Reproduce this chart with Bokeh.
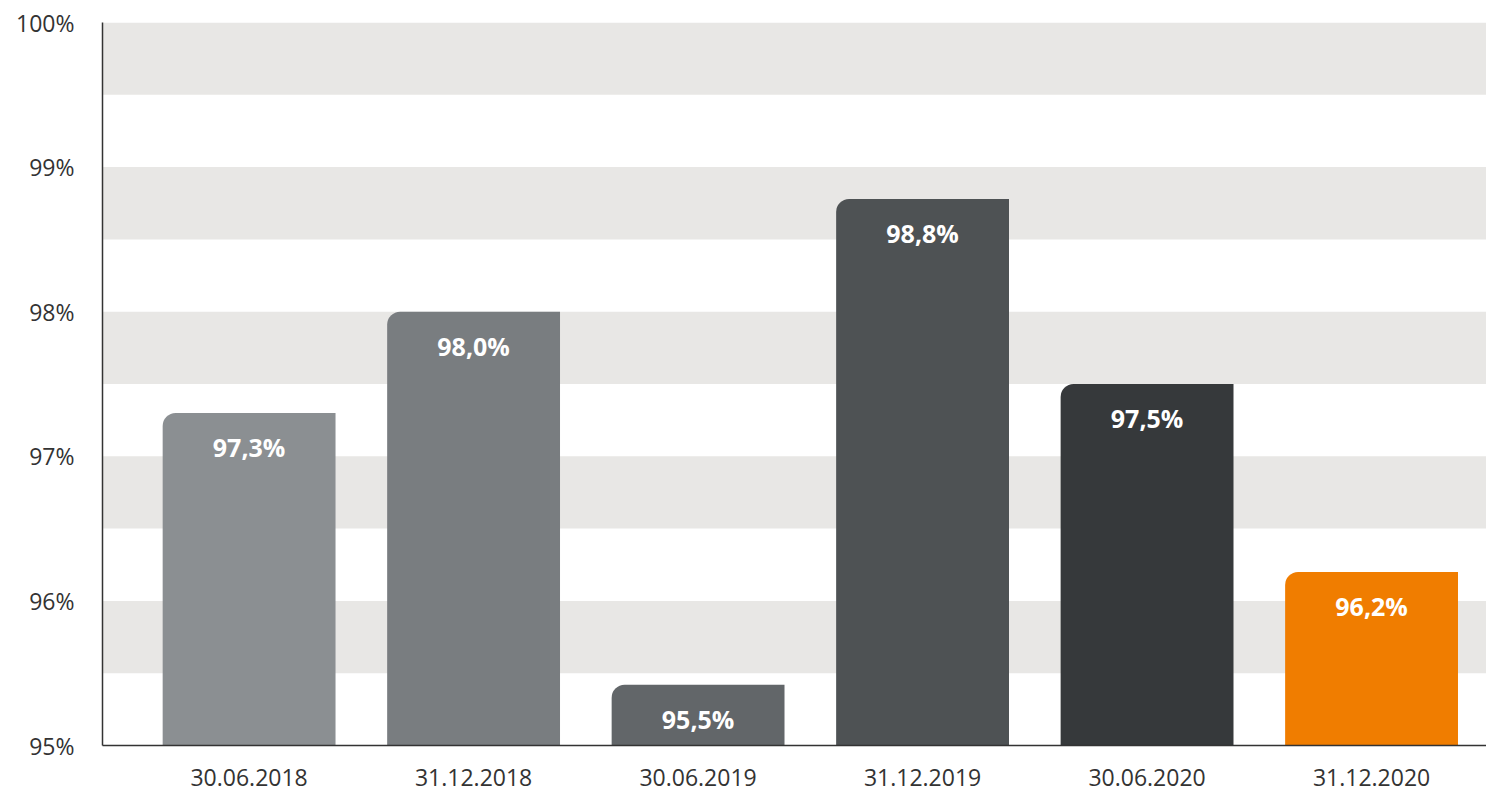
from bokeh.plotting import figure
from bokeh.models import ColumnDataSource, Range1d, FixedTicker
from bokeh.embed import file_html
from bokeh.resources import INLINE
from bokeh.core.properties import value

categories = ["30.06.2018", "31.12.2018", "30.06.2019", "31.12.2019", "30.06.2020", "31.12.2020"]
values = [97.3, 98.0, 95.42, 98.78, 97.5, 96.2]
labels = ["97,3%", "98,0%", "95,5%", "98,8%", "97,5%", "96,2%"]
colors = ["#8b8f92", "#797d80", "#626669", "#4e5254", "#36393b", "#f07d00"]
y_ticks = [95, 96, 97, 98, 99, 100]
y_tick_labels = ["95%", "96%", "97%", "98%", "99%", "100%"]
band_bottoms = [95.5, 96.5, 97.5, 98.5, 99.5]
band_tops = [96.0, 97.0, 98.0, 99.0, 100.0]

X0, X1 = -0.653, 5.512

xs = list(range(len(categories)))
src = ColumnDataSource(dict(x=xs, top=values, label=labels, color=colors))

p = figure(width=1486, height=792, output_backend="svg", toolbar_location=None,
           x_range=Range1d(X0, X1), y_range=Range1d(95, 100),
           min_border_left=102, min_border_top=22, min_border_bottom=47, min_border_right=0)
p.outline_line_color = None
p.xgrid.visible = False
p.ygrid.visible = False
p.background_fill_color = "white"

p.quad(left=X0, right=X1, bottom=band_bottoms, top=band_tops,
       fill_color="#e8e7e5", line_color=None)

p.vbar(x="x", top="top", bottom=95, width=0.77, fill_color="color", line_color=None,
       border_radius=(13, 0, 0, 0), source=src)

p.text(x="x", y="top", text="label", y_offset=34, text_align="center", text_baseline="middle",
       text_color="white", text_font=value("Open Sans"), text_font_style="bold",
       text_font_size="25px", source=src)

p.xaxis.ticker = FixedTicker(ticks=xs)
p.xaxis.major_label_overrides = {i: c for i, c in zip(xs, categories)}
p.yaxis.ticker = FixedTicker(ticks=y_ticks)
p.yaxis.major_label_overrides = {t: l for t, l in zip(y_ticks, y_tick_labels)}

for ax in (p.xaxis, p.yaxis):
    ax.axis_line_color = "#333333"
    ax.axis_line_width = 1.5
    ax.major_tick_line_color = None
    ax.minor_tick_line_color = None
    ax.major_label_text_font = "Open Sans"
    ax.major_label_text_font_size = "23px"
    ax.major_label_text_color = "#333333"
p.xaxis.major_label_standoff = 17
p.yaxis.major_label_standoff = 22

open("out.html", "w").write(file_html(p, INLINE))
